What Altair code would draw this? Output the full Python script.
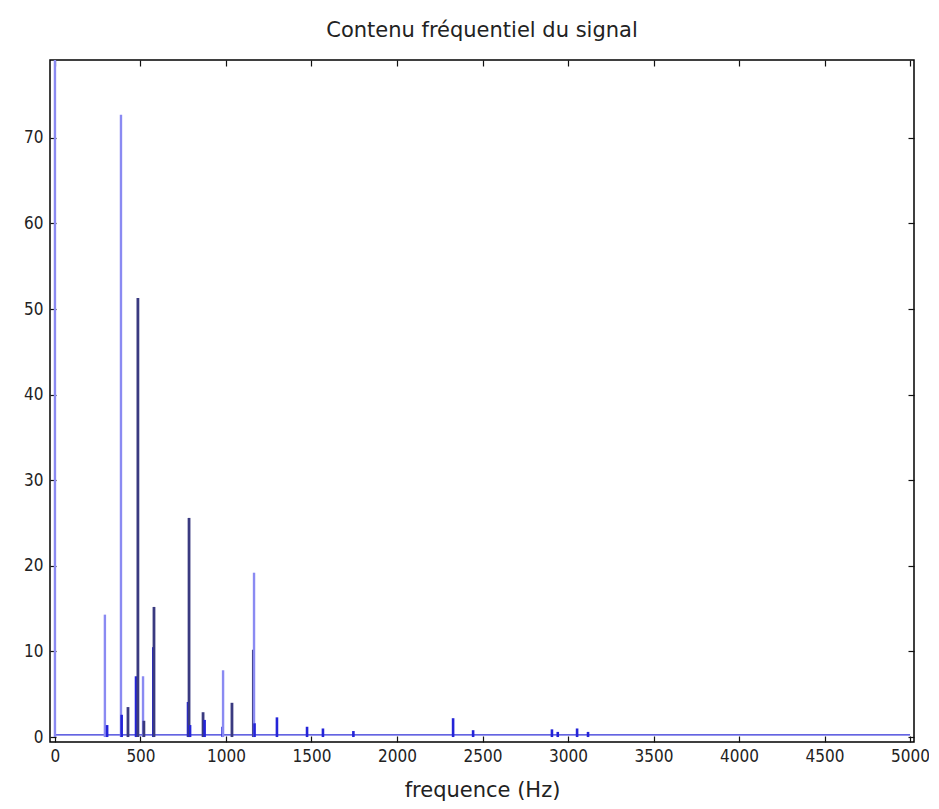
import altair as alt
import pandas as pd

# Spectrum peaks: frequency (Hz), amplitude, rendering tone
spike_freq = [0, 292, 305, 386, 390, 427, 474, 485, 515, 520, 575, 579,
              778, 784, 790, 866, 875, 980, 983, 1035, 1160, 1164, 1167,
              1298, 1474, 1567, 1745, 2328, 2445, 2906, 2940, 3053, 3117]
spike_amp = [79.5, 14.3, 1.4, 72.7, 2.6, 3.5, 7.1, 51.3, 7.1, 1.9, 10.5, 15.2,
             4.1, 25.6, 1.4, 2.9, 2.0, 1.2, 7.8, 4.0, 10.2, 19.2, 1.6,
             2.3, 1.2, 1.0, 0.7, 2.2, 0.8, 0.9, 0.6, 1.0, 0.6]
spike_tone = ["light", "light", "mid", "light", "mid", "dark", "mid", "dark", "light", "dark", "mid", "dark",
              "mid", "dark", "mid", "dark", "mid", "mid", "light", "dark", "dark", "light", "mid",
              "mid", "mid", "mid", "mid", "mid", "mid", "mid", "mid", "mid", "mid"]

baseline_freq = [0, 5000]
baseline_level = [0.25, 0.25]

x_ticks = [0, 500, 1000, 1500, 2000, 2500, 3000, 3500, 4000, 4500, 5000]
y_ticks = [0, 10, 20, 30, 40, 50, 60, 70]

spikes = pd.DataFrame({"freq": spike_freq, "amp": spike_amp, "tone": spike_tone,
                       "floor": [0.0] * len(spike_freq)})
base = pd.DataFrame({"freq": baseline_freq, "level": baseline_level})

xscale = alt.Scale(domain=[-29, 5023], nice=False, zero=False)
yscale = alt.Scale(domain=[-0.58, 79.1], nice=False, zero=False)

label_font = "Liberation Sans Narrow, DejaVu Sans Condensed, Liberation Sans, sans-serif"
title_font = "DejaVu Sans"

x_bottom = alt.Axis(values=x_ticks, orient="bottom", offset=-6, tickSize=6, domain=False,
                    grid=False, labelPadding=6, labelFont=label_font, labelFontSize=17,
                    labelColor="#222222", tickColor="#111111", tickWidth=1.2,
                    labelFlush=False, labelOverlap=False, format="d",
                    title="frequence (Hz)", titleFont=title_font, titleFontSize=21,
                    titleFontWeight="normal", titleColor="#222222", titlePadding=15)
y_left = alt.Axis(values=y_ticks, orient="left", offset=-6, tickSize=6, domain=False,
                  grid=False, labelPadding=7, labelFont=label_font, labelFontSize=17,
                  labelColor="#222222", tickColor="#111111", tickWidth=1.2,
                  labelOverlap=False, format="d", title=None)
x_top = alt.Axis(values=x_ticks, orient="top", offset=-6, tickSize=6, domain=False,
                 grid=False, labels=False, tickColor="#111111", tickWidth=1.2, title=None)
y_right = alt.Axis(values=y_ticks, orient="right", offset=-6, tickSize=6, domain=False,
                   grid=False, labels=False, tickColor="#111111", tickWidth=1.2, title=None)

spike_layer = alt.Chart(spikes).mark_rule(clip=True).encode(
    x=alt.X("freq:Q", scale=xscale, axis=x_bottom),
    y=alt.Y("floor:Q", scale=yscale, axis=y_left),
    y2="amp:Q",
    color=alt.Color("tone:N", legend=None,
                    scale=alt.Scale(domain=["light", "mid", "dark"],
                                    range=["#8a8af2", "#2424d8", "#3a3a80"])),
    strokeWidth=alt.StrokeWidth("tone:N", legend=None,
                                scale=alt.Scale(domain=["light", "mid", "dark"],
                                                range=[2.4, 2.8, 1.6])),
)

base_layer = alt.Chart(base).mark_line(color="#3030d8", strokeWidth=1.4, clip=True).encode(
    x=alt.X("freq:Q", scale=xscale, axis=x_top),
    y=alt.Y("level:Q", scale=yscale, axis=y_right),
)

chart = alt.layer(base_layer, spike_layer).resolve_axis(
    x="independent", y="independent"
).properties(
    width=864, height=682,
    autosize=alt.AutoSizeParams(type="none"),
    padding={"left": 42, "top": 52, "right": 15, "bottom": 63},
    title=alt.Title(text="Contenu fréquentiel du signal", font=title_font, fontSize=21,
                    fontWeight="normal", color="#222222", anchor="middle", frame="group",
                    offset=-3, baseline="bottom"),
    background="white",
).configure_view(stroke="black", strokeWidth=1.5)

chart.save("out.html", embed_options={"renderer": "svg", "actions": False})
